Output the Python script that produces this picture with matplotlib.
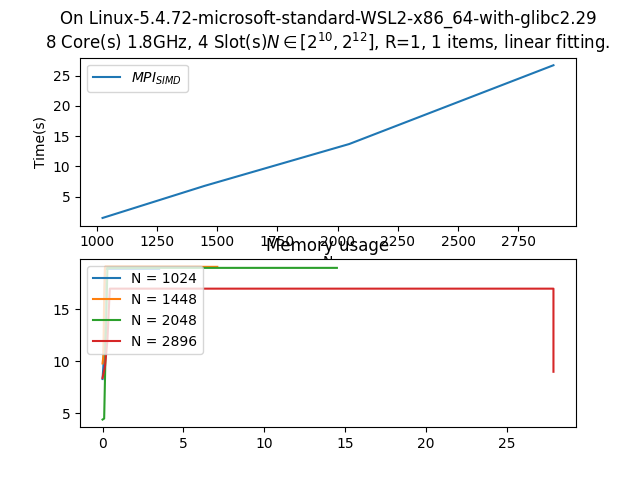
import matplotlib
matplotlib.use('Agg')
import matplotlib.pyplot as plt

# timing data
sizes = [1024, 1448, 2048, 2896]
times = [1.5, 6.8, 13.7, 26.7]

# memory usage traces (time, MB)
mem_1024_t = [0, 0.05, 0.1, 0.15, 3.5]
mem_1024_m = [8.3, 9.5, 12.0, 18.9, 18.9]
mem_1448_t = [0, 0.05, 0.1, 0.15, 7.1]
mem_1448_m = [9.8, 10.5, 16.0, 19.1, 19.1]
mem_2048_t = [0, 0.1, 0.2, 0.3, 14.5]
mem_2048_m = [4.4, 4.5, 12.0, 19.0, 19.0]
mem_2896_t = [0, 0.15, 0.3, 0.45, 27.9, 27.9]
mem_2896_m = [8.4, 9.5, 12.0, 17.0, 17.0, 9.0]

fig, (ax1, ax2) = plt.subplots(2, 1)

ax1.plot(sizes, times, label='$MPI_{SIMD}$')
ax1.set_title('On Linux-5.4.72-microsoft-standard-WSL2-x86_64-with-glibc2.29\n'
              '8 Core(s) 1.8GHz, 4 Slot(s)$N \\in [2^{10}, 2^{12}]$, R=1, 1 items, linear fitting.')
ax1.set_xlabel('N')
ax1.set_ylabel('Time(s)')
ax1.legend(loc='upper left')

ax2.plot(mem_1024_t, mem_1024_m, label='N = 1024')
ax2.plot(mem_1448_t, mem_1448_m, label='N = 1448')
ax2.plot(mem_2048_t, mem_2048_m, label='N = 2048')
ax2.plot(mem_2896_t, mem_2896_m, label='N = 2896')
ax2.set_title('Memory usage')
ax2.legend(loc='upper left')

plt.savefig('out.png')
